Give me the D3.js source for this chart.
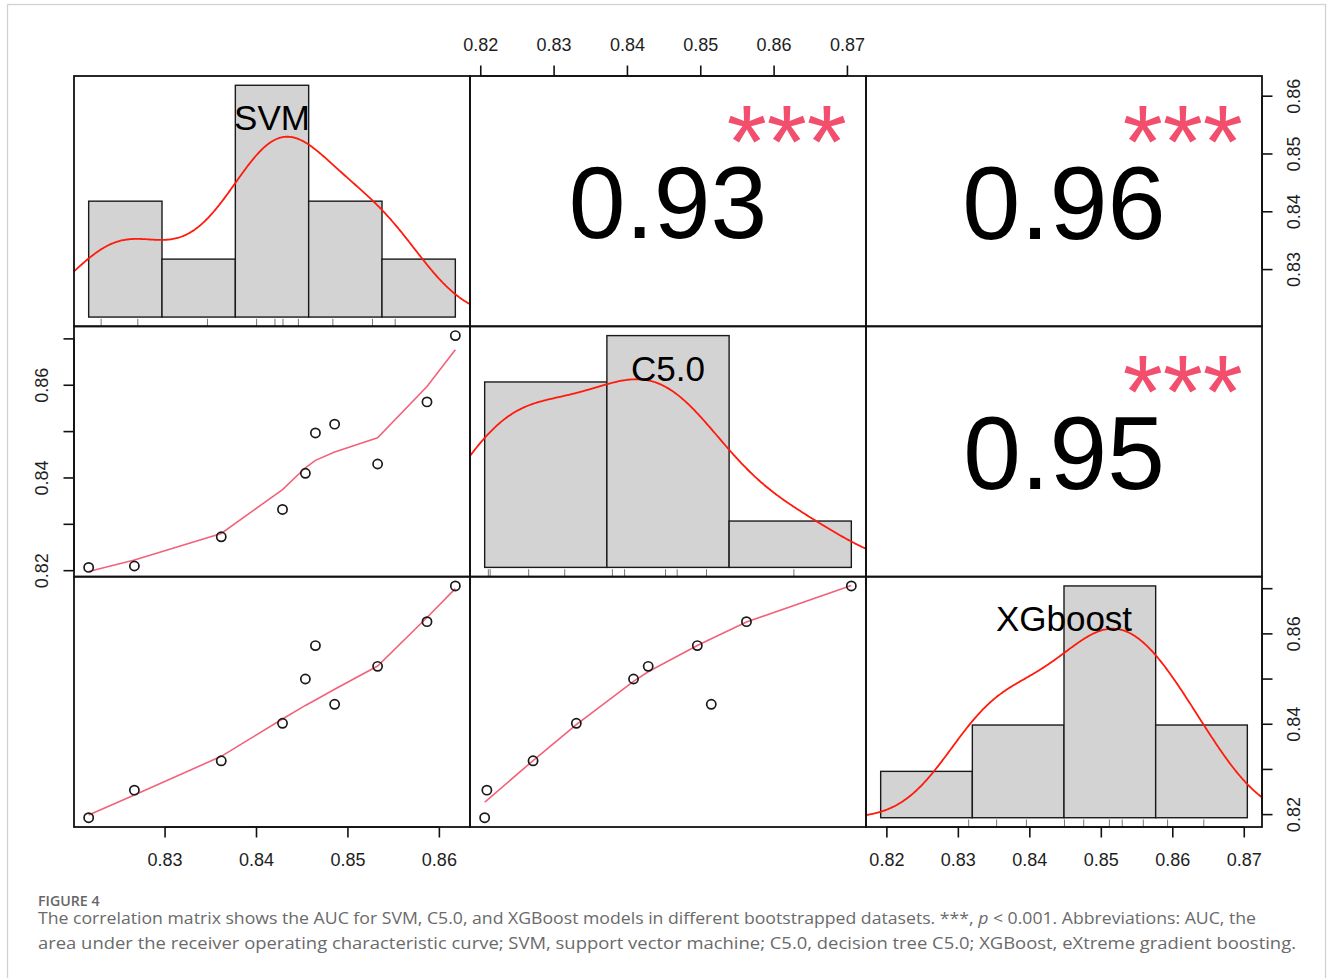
<!DOCTYPE html>
<html><head><meta charset="utf-8">
<script src="https://cdn.jsdelivr.net/npm/d3@7"></script>
<style>
html,body{margin:0;padding:0;background:#fff;}
svg{display:block;}
</style></head><body>
<svg id="chart" width="1330" height="978"></svg>
<script>
// ---------------- data ----------------
const variables = ["SVM", "C5.0", "XGboost"];
const svmAUC = [0.8217, 0.8267, 0.8362, 0.8429, 0.8454, 0.8465, 0.8486, 0.8533, 0.8587, 0.8618];
const c50AUC = [0.8206, 0.8209, 0.8272, 0.8331, 0.8409, 0.8496, 0.8515, 0.8429, 0.8563, 0.8706];
const xgbAUC = [0.8192, 0.8253, 0.8318, 0.8401, 0.8499, 0.8573, 0.8443, 0.8527, 0.8626, 0.8705];
const svmBreaks = [0.82, 0.83, 0.84, 0.85, 0.86, 0.87];
const c50Breaks = [0.82, 0.84, 0.86, 0.88];
const xgbBreaks = [0.80, 0.82, 0.84, 0.86, 0.88];
const corrLabels = ["0.93", "0.96", "0.95"];
const corrValues = [0.93, 0.96, 0.95];
const signifLabels = ["***", "***", "***"];
const svmTicks = [0.83, 0.84, 0.85, 0.86];
const c50Ticks = [0.82, 0.83, 0.84, 0.85, 0.86, 0.87];
const xgbTicks = [0.82, 0.83, 0.84, 0.85, 0.86, 0.87];
const c50LeftLabels = [0.82, 0.84, 0.86];
const xgbRightLabels = [0.82, 0.84, 0.86];
const captionTitle = "FIGURE 4";
const captionLine1a = "The correlation matrix shows the AUC for SVM, C5.0, and XGBoost models in different bootstrapped datasets. ***, ";
const captionLine1p = "p";
const captionLine1b = " < 0.001. Abbreviations: AUC, the";
const captionLine2 = "area under the receiver operating characteristic curve; SVM, support vector machine; C5.0, decision tree C5.0; XGBoost, eXtreme gradient boosting.";

// ---------------- helpers ----------------
function lowess(xIn, yIn, f = 2/3, iter = 3) {
  const idx = d3.range(xIn.length).sort((a, b) => xIn[a] - xIn[b]);
  const x = idx.map(i => xIn[i]), y = idx.map(i => yIn[i]);
  const n = x.length;
  const range = x[n-1] - x[0];
  const delta = 0.01 * range;
  const ns = Math.max(2, Math.min(n, Math.floor(f * n + 1e-7)));
  const ys = new Array(n).fill(0), rw = new Array(n).fill(1), res = new Array(n).fill(0), w = new Array(n).fill(0);
  function lowest(xs, nleft, nright, userw) {
    const h = Math.max(xs - x[nleft], x[nright] - xs);
    const h9 = 0.999 * h, h1 = 0.001 * h;
    let a = 0, j = nleft;
    while (j < n) {
      w[j] = 0;
      const r = Math.abs(x[j] - xs);
      if (r <= h9) {
        if (r <= h1) w[j] = 1; else w[j] = Math.pow(1 - Math.pow(r / h, 3), 3);
        if (userw) w[j] *= rw[j];
        a += w[j];
      } else if (x[j] > xs) break;
      j++;
    }
    const nrt = j - 1;
    if (a <= 0) return null;
    for (j = nleft; j <= nrt; j++) w[j] /= a;
    if (h > 0) {
      a = 0; for (j = nleft; j <= nrt; j++) a += w[j] * x[j];
      let b = xs - a, c = 0;
      for (j = nleft; j <= nrt; j++) c += w[j] * (x[j] - a) * (x[j] - a);
      if (Math.sqrt(c) > 0.001 * range) { b /= c; for (j = nleft; j <= nrt; j++) w[j] *= (b * (x[j] - a) + 1); }
    }
    let s = 0; for (j = nleft; j <= nrt; j++) s += w[j] * y[j];
    return s;
  }
  for (let it = 1; it <= iter + 1; it++) {
    let nleft = 0, nright = ns - 1, last = -1, i = 0;
    for (;;) {
      if (nright < n - 1) {
        const d1 = x[i] - x[nleft], d2 = x[nright + 1] - x[i];
        if (d1 > d2) { nleft++; nright++; continue; }
      }
      const v = lowest(x[i], nleft, nright, it > 1);
      ys[i] = v === null ? y[i] : v;
      if (last < i - 1) {
        const denom = x[i] - x[last];
        for (let j = last + 1; j < i; j++) { const al = (x[j] - x[last]) / denom; ys[j] = al * ys[i] + (1 - al) * ys[last]; }
      }
      last = i;
      const cut = x[last] + delta;
      for (i = last + 1; i < n; i++) {
        if (x[i] > cut) break;
        if (x[i] === x[last]) { ys[i] = ys[last]; last = i; }
      }
      i = Math.max(last + 1, i - 1);
      if (last >= n - 1) break;
    }
    for (let k = 0; k < n; k++) res[k] = y[k] - ys[k];
    if (it > iter) break;
    const ar = res.map(Math.abs);
    const sc = d3.sum(ar) / n;
    const sorted = ar.slice().sort((a, b) => a - b);
    const m1 = Math.floor(n / 2);
    let cmad;
    if (n % 2 === 0) { const m2 = n - m1 - 1; cmad = 3 * (sorted[m1] + sorted[m2]); } else cmad = 6 * sorted[m1];
    if (cmad < 1e-7 * sc) break;
    const c9 = 0.999 * cmad, c1 = 0.001 * cmad;
    for (let k = 0; k < n; k++) { const r = ar[k]; rw[k] = r <= c1 ? 1 : (r <= c9 ? Math.pow(1 - (r / cmad) * (r / cmad), 2) : 0); }
  }
  return x.map((xv, k) => [xv, ys[k]]);
}

function bwNrd0(v) {
  const s = v.slice().sort(d3.ascending);
  const sd = d3.deviation(v);
  const iqr = d3.quantileSorted(s, 0.75) - d3.quantileSorted(s, 0.25);
  const lo = Math.min(sd, iqr / 1.34) || sd || 1;
  return 0.9 * lo * Math.pow(v.length, -0.2);
}
function kde(v) {
  const bw = bwNrd0(v);
  const [a, b] = d3.extent(v);
  const lo = a - 3 * bw, hi = b + 3 * bw, m = 512;
  const n = v.length;
  return d3.range(m).map(i => {
    const x = lo + (hi - lo) * i / (m - 1);
    const d = d3.sum(v, xi => Math.exp(-0.5 * ((x - xi) / bw) ** 2)) / (n * bw * Math.sqrt(2 * Math.PI));
    return [x, d];
  });
}

// ---------------- layout ----------------
const svg = d3.select("#chart");
const FONT = "'Liberation Sans', Arial, Helvetica, sans-serif";
const L = 74, R = 1262, T = 76, B = 827;
const pw = (R - L) / 3, ph = (B - T) / 3;
const data = [svmAUC, c50AUC, xgbAUC];
const breaks = [svmBreaks, c50Breaks, xgbBreaks];
const padDomain = ([a, b]) => { const e = (b - a) * 0.04; return [a - e, b + e]; };
const xScale = data.map((v, k) => d3.scaleLinear().domain(padDomain(d3.extent(v))).range([L + k * pw, L + (k + 1) * pw]));
const yScale = data.map((v, k) => d3.scaleLinear().domain(padDomain(d3.extent(v))).range([T + (k + 1) * ph, T + k * ph]));

svg.append("rect").attr("width", 1330).attr("height", 978).attr("fill", "#fff");
svg.append("rect").attr("x", 7.5).attr("y", 4.5).attr("width", 1318).attr("height", 1000)
  .attr("fill", "none").attr("stroke", "#d2d2d2").attr("stroke-width", 1.3);

const defs = svg.append("defs");
for (let i = 0; i < 3; i++) for (let j = 0; j < 3; j++) {
  defs.append("clipPath").attr("id", `clip-${i}-${j}`).append("rect")
    .attr("x", L + j * pw).attr("y", T + i * ph).attr("width", pw).attr("height", ph);
}

const content = svg.append("g");

const upperIdx = { "0-1": 0, "0-2": 1, "1-2": 2 };
const corrBase = 107.8;
const starFs = 103;
const starColor = "#F24F6E";
const smoothColor = "#F2627A";

for (let i = 0; i < 3; i++) {
  for (let j = 0; j < 3; j++) {
    const x0 = L + j * pw, y0 = T + i * ph;
    const g = content.append("g").attr("clip-path", `url(#clip-${i}-${j})`);
    if (i === j) {
      const br = breaks[i];
      const v = data[i];
      const n = v.length;
      const bins = d3.bin().domain([br[0], br[br.length - 1]]).thresholds(br.slice(1, -1))(v);
      const dens = bins.map(b => b.length / (n * (b.x1 - b.x0)));
      const maxD = d3.max(dens);
      const hx = d3.scaleLinear().domain(padDomain([br[0], br[br.length - 1]])).range([x0, x0 + pw]);
      const hy = d3.scaleLinear().domain(padDomain([0, maxD])).range([y0 + ph, y0]);
      g.selectAll("rect.bar").data(bins).join("rect").attr("class", "bar")
        .attr("x", b => hx(b.x0)).attr("width", b => hx(b.x1) - hx(b.x0))
        .attr("y", (b, k) => hy(dens[k])).attr("height", (b, k) => hy(0) - hy(dens[k]))
        .attr("fill", "#d3d3d3").attr("stroke", "#1a1a1a").attr("stroke-width", 1.4);
      const curve = kde(v);
      g.append("path").datum(curve)
        .attr("d", d3.line().x(d => hx(d[0])).y(d => hy(d[1])))
        .attr("fill", "none").attr("stroke", "#ff1a0a").attr("stroke-width", 1.8);
      g.selectAll("line.rug").data(v).join("line").attr("class", "rug")
        .attr("x1", d => hx(d)).attr("x2", d => hx(d))
        .attr("y1", y0 + ph).attr("y2", y0 + ph - 0.03 * ph)
        .attr("stroke", "#666").attr("stroke-width", 0.9);
      const fsL = 35;
      const cy = y0 + ph - (5 / 6) * ph;
      g.append("text").attr("x", x0 + pw / 2).attr("y", cy + 0.358 * fsL)
        .attr("text-anchor", "middle").attr("font-family", FONT).attr("font-size", fsL)
        .attr("fill", "#000").text(variables[i]);
    } else if (i > j) {
      const xs = data[j], ysv = data[i];
      const sm = lowess(xs, ysv);
      g.append("path").datum(sm)
        .attr("d", d3.line().x(d => xScale[j](d[0])).y(d => yScale[i](d[1])))
        .attr("fill", "none").attr("stroke", smoothColor).attr("stroke-width", 1.6);
      g.selectAll("circle").data(xs.map((xv, k) => [xv, ysv[k]])).join("circle")
        .attr("cx", d => xScale[j](d[0])).attr("cy", d => yScale[i](d[1])).attr("r", 4.6)
        .attr("fill", "none").attr("stroke", "#1a1a1a").attr("stroke-width", 1.7);
    } else {
      const k = upperIdx[`${i}-${j}`];
      const fsN = corrBase * (Math.abs(corrValues[k]) + 0.3) / 1.3;
      const cx = x0 + pw / 2, cy = y0 + ph / 2;
      g.append("text").attr("x", cx).attr("y", cy + 0.358 * fsN)
        .attr("text-anchor", "middle").attr("font-family", FONT).attr("font-size", fsN)
        .attr("fill", "#000").text(corrLabels[k]);
      const sx = x0 + 0.8 * pw, sy = y0 + ph - 0.8 * ph + 1;
      g.append("text").attr("x", sx).attr("y", sy + 0.49 * starFs)
        .attr("text-anchor", "middle").attr("font-family", FONT).attr("font-size", starFs)
        .attr("fill", starColor).text(signifLabels[k]);
    }
  }
}

for (let i = 0; i < 3; i++) for (let j = 0; j < 3; j++) {
  svg.append("rect").attr("x", L + j * pw).attr("y", T + i * ph).attr("width", pw).attr("height", ph)
    .attr("fill", "none").attr("stroke", "#111").attr("stroke-width", 1.8);
}

// ---------------- axes ----------------
const fmt = d3.format(".2f");
const axesSpec = [
  { side: "top", k: 1, ticks: c50Ticks, labels: c50Ticks },
  { side: "bottom", k: 0, ticks: svmTicks, labels: svmTicks },
  { side: "bottom", k: 2, ticks: xgbTicks, labels: xgbTicks },
  { side: "left", k: 1, ticks: c50Ticks, labels: c50LeftLabels },
  { side: "right", k: 0, ticks: svmTicks, labels: svmTicks },
  { side: "right", k: 2, ticks: xgbTicks, labels: xgbRightLabels }
];
const TICK = 10.5, LAB_H = 39.4, LAB_V = 38.4;
axesSpec.forEach(a => {
  const horiz = a.side === "top" || a.side === "bottom";
  const sc = horiz ? xScale[a.k] : yScale[a.k];
  const gen = (a.side === "top" ? d3.axisTop : a.side === "bottom" ? d3.axisBottom : a.side === "left" ? d3.axisLeft : d3.axisRight)(sc)
    .tickValues(a.ticks).tickSize(TICK).tickSizeOuter(0)
    .tickFormat(d => a.labels.some(l => Math.abs(l - d) < 1e-9) ? fmt(d) : "");
  const pos = a.side === "top" ? `translate(0,${T})` : a.side === "bottom" ? `translate(0,${B})` :
              a.side === "left" ? `translate(${L},0)` : `translate(${R},0)`;
  const ax = svg.append("g").attr("transform", pos).call(gen);
  ax.select(".domain").remove();
  const p0 = sc(a.ticks[0]), p1 = sc(a.ticks[a.ticks.length - 1]);
  if (horiz) ax.append("line").attr("x1", p0).attr("x2", p1).attr("stroke", "#111").attr("stroke-width", 1.6);
  else ax.append("line").attr("y1", p0).attr("y2", p1).attr("stroke", "#111").attr("stroke-width", 1.6);
  ax.selectAll(".tick line").attr("stroke", "#111").attr("stroke-width", 1.6);
  const txt = ax.selectAll(".tick text").attr("font-family", FONT).attr("font-size", 18).attr("fill", "#1e1e1e").attr("dy", null);
  if (a.side === "top") txt.attr("y", -(LAB_H - 14.8)).attr("x", 0);
  else if (a.side === "bottom") txt.attr("y", LAB_H).attr("x", 0);
  else if (a.side === "left") txt.attr("x", null).attr("text-anchor", "middle").attr("transform", `translate(${-(LAB_V - 12.8)},0) rotate(-90)`);
  else txt.attr("x", null).attr("text-anchor", "middle").attr("transform", `translate(${LAB_V},0) rotate(-90)`);
});

// ---------------- caption ----------------
const CAP = "'Open Sans', 'Noto Sans', sans-serif";
svg.append("text").attr("x", 38).attr("y", 906).attr("font-family", CAP).attr("font-size", 14.2)
  .attr("font-weight", 600).attr("fill", "#666").text(captionTitle);
const t1 = svg.append("text").attr("x", 38).attr("y", 924).attr("font-family", CAP).attr("font-size", 15.4).attr("fill", "#6a6a6a");
t1.append("tspan").text(captionLine1a);
t1.append("tspan").attr("font-style", "italic").text(captionLine1p);
t1.append("tspan").text(captionLine1b);
const t2 = svg.append("text").attr("x", 38).attr("y", 948.5).attr("font-family", CAP).attr("font-size", 15.4).attr("fill", "#6a6a6a")
  .text(captionLine2);
[[t1, 1218], [t2, 1258]].forEach(([t, target]) => {
  const w = t.node().getComputedTextLength();
  if (Math.abs(w - target) > 2) t.attr("textLength", target).attr("lengthAdjust", "spacingAndGlyphs");
});
</script>
</body></html>
